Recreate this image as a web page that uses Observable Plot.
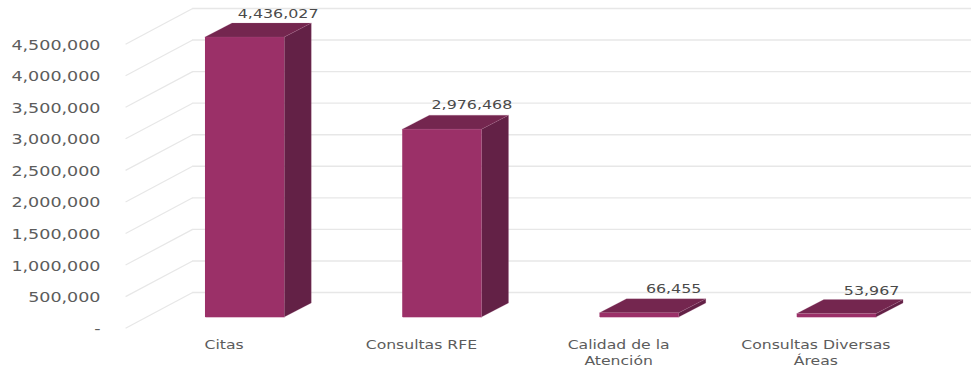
<!DOCTYPE html>
<html>
<head>
<meta charset="utf-8">
<script src="https://cdn.jsdelivr.net/npm/d3@7"></script>
<script src="https://cdn.jsdelivr.net/npm/@observablehq/plot@0.6"></script>
<style>
html,body{margin:0;padding:0;background:#fff}
svg{display:block}
</style>
</head>
<body>
<div id="chart"></div>
<script>
const categories = ["Citas", "Consultas RFE", "Calidad de la\nAtención", "Consultas Diversas\nÁreas"];
const values = [4436027, 2976468, 66455, 53967];
const yTicks = [0, 500000, 1000000, 1500000, 2000000, 2500000, 3000000, 3500000, 4000000, 4500000];

// 3-D projection, in scale units
const barHalf = 0.201;          // half a bar width, in category slots
const barDepthX = 0.137;        // receding offset of a bar along x
const barDepthY = 222000;       // receding offset of a bar along y
const barBase = -396000;        // where a bar's front meets the floor
const wallLeft = 0.2339, wallRight = 4.19;
const floorDepthX = 0.34, floorDepthY = 565000;

const rows = values.map((v, i) => ({
  name: categories[i], value: v,
  xl: i + 0.5 - barHalf, xr: i + 0.5 + barHalf, xc: i + 0.5,
  base: barBase, top: barBase + v
}));
const sidePts = rows.flatMap(d => [
  {k: d.name, x: d.xr, y1: d.base, y2: d.top},
  {k: d.name, x: d.xr + barDepthX, y1: d.base + barDepthY, y2: d.top + barDepthY}
]);
const topPts = rows.flatMap(d => [
  {k: d.name, x: d.xl, y1: d.top, y2: d.top},
  {k: d.name, x: d.xl + barDepthX, y1: d.top, y2: d.top + barDepthY},
  {k: d.name, x: d.xr, y1: d.top, y2: d.top + barDepthY},
  {k: d.name, x: d.xr + barDepthX, y1: d.top + barDepthY, y2: d.top + barDepthY}
]);

const textColor = "#5c5c5c";
const gridColor = "#e7e7e7";
const edgeColor = "#b77a9c";
const valueLabel = (i, dx, dy) => Plot.text([rows[i]], {
  x: "xc", y: "top", text: d => d3.format(",")(d.value),
  dx, dy, fontSize: 12.7, fill: "#4a4a4a"
});

const chart = Plot.plot({
  width: 971, height: 368,
  marginTop: 8, marginBottom: 76, marginLeft: 146, marginRight: 36,
  style: {fontFamily: "'DejaVu Sans'", background: "#fff"},
  x: {domain: [0, 4], axis: null},
  y: {domain: [0, 4500000], axis: null},
  marks: [
    Plot.ruleY(yTicks, {x1: wallLeft, x2: wallRight, stroke: gridColor, strokeWidth: 1.4}),
    Plot.link(yTicks, {
      x1: wallLeft - floorDepthX, y1: d => d - floorDepthY,
      x2: wallLeft, y2: d => d,
      stroke: gridColor, strokeWidth: 1.2
    }),
    Plot.area(sidePts, {x1: "x", y1: "y1", y2: "y2", z: "k", fill: "#632146", stroke: edgeColor, strokeWidth: 0.6, strokeOpacity: 0.3}),
    Plot.area(topPts, {x1: "x", y1: "y1", y2: "y2", z: "k", fill: "#74264F", stroke: edgeColor, strokeWidth: 0.6, strokeOpacity: 0.3}),
    Plot.rect(rows, {x1: "xl", x2: "xr", y1: "base", y2: "top", fill: "#9B3068"}),
    Plot.link(rows, {x1: "xl", x2: "xr", y1: "base", y2: "base", stroke: "#e3bfd2", strokeWidth: 1.2}),
    valueLabel(0, 33, -23.5),
    valueLabel(1, 29.5, -24.5),
    valueLabel(2, 34, -24.5),
    valueLabel(3, 34.7, -23),
    Plot.axisY({
      anchor: "left", ticks: yTicks, tickSize: 0, tickPadding: 0, dx: -46, dy: 36.7,
      fontSize: 14, fill: textColor, label: null,
      tickFormat: v => v === 0 ? "-" : d3.format(",")(v)
    }),
    Plot.axisX({
      anchor: "bottom", ticks: categories.map((c, i) => i + 0.5), tickSize: 0, tickPadding: 0,
      dx: -21, dy: 45, fontSize: 12.5, lineHeight: 1.3, fill: textColor, label: null,
      tickFormat: v => categories[Math.floor(v)]
    })
  ]
});
document.getElementById("chart").appendChild(chart);

// the reference's type is horizontally stretched
const stretch = 1.25;
chart.querySelectorAll("text").forEach(t => {
  const lines = t.querySelectorAll("tspan");
  (lines.length ? lines : [t]).forEach(n => {
    n.setAttribute("textLength", n.getComputedTextLength() * stretch);
    n.setAttribute("lengthAdjust", "spacingAndGlyphs");
  });
});
</script>
</body>
</html>
